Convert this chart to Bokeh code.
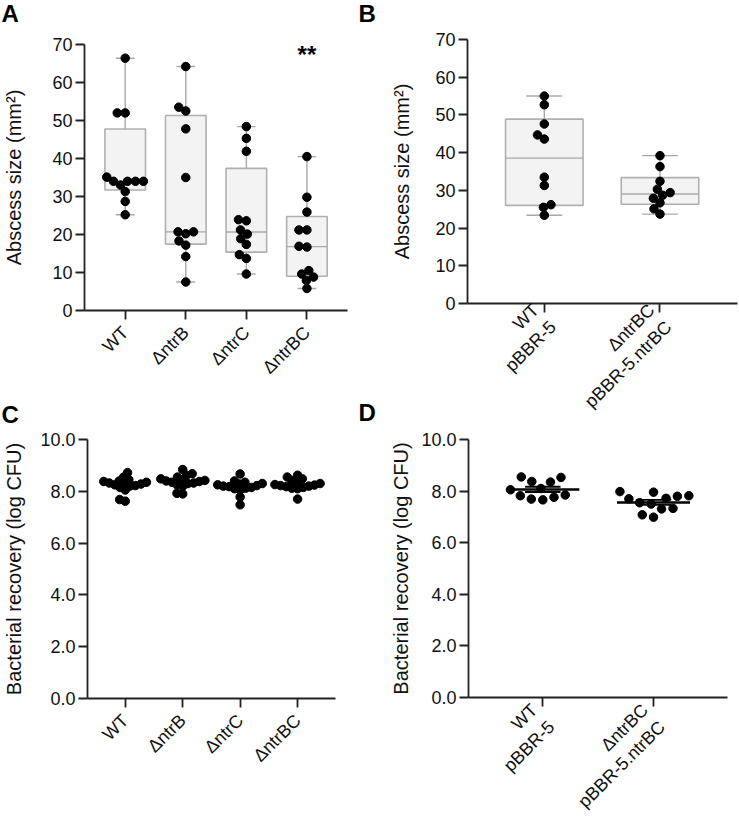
import numpy as np
from math import pi
from bokeh.plotting import figure
from bokeh.layouts import row, column
from bokeh.models import FixedTicker, Label, Range1d, NumeralTickFormatter
from bokeh.core.properties import value
from bokeh.embed import file_html
from bokeh.resources import INLINE

FONT = "Liberation Sans"

# ---------------- data ----------------
groups_a = ["WT", "ΔntrB", "ΔntrC", "ΔntrBC"]
a_wt = [66.4, 52.0, 52.0, 35.1, 34.0, 34.0, 34.0, 34.0, 33.0, 31.3, 28.7, 25.2]
a_ntrb = [64.2, 53.5, 52.5, 47.8, 35.0, 20.7, 20.7, 20.2, 18.3, 17.2, 14.2, 7.5]
a_ntrc = [48.4, 45.3, 41.9, 23.9, 23.6, 21.2, 20.1, 18.9, 17.4, 14.7, 13.7, 9.6]
a_ntrbc = [40.5, 29.8, 25.9, 21.2, 21.2, 16.9, 16.7, 10.5, 9.6, 8.8, 7.9, 5.8]
a_sig = "**"

groups_b = ["WT\npBBR-5", "ΔntrBC\npBBR-5.ntrBC"]
b_wt = [55.0, 52.7, 47.6, 44.7, 43.6, 33.5, 31.3, 26.2, 25.5, 23.4]
b_ntrbc = [39.2, 36.3, 32.4, 30.3, 29.4, 28.7, 27.9, 26.7, 25.1, 23.7]

c_wt = [8.72, 8.55, 8.45, 8.40, 8.38, 8.35, 8.32, 8.30, 8.28, 8.25, 8.22, 8.20, 8.15, 8.05, 7.68, 7.62]
c_ntrb = [8.84, 8.68, 8.62, 8.55, 8.48, 8.45, 8.42, 8.40, 8.38, 8.35, 8.32, 8.30, 8.25, 8.20, 7.92, 7.90]
c_ntrc = [8.67, 8.40, 8.35, 8.30, 8.28, 8.25, 8.22, 8.20, 8.18, 8.15, 8.12, 8.10, 8.05, 7.78, 7.48]
c_ntrbc = [8.62, 8.55, 8.48, 8.42, 8.35, 8.30, 8.26, 8.24, 8.22, 8.20, 8.18, 8.15, 8.12, 8.10, 7.70]

d_wt = [8.55, 8.53, 8.37, 8.35, 8.10, 8.05, 7.85, 7.82, 7.76, 7.69, 7.66]
d_ntrbc = [7.98, 7.96, 7.82, 7.80, 7.72, 7.70, 7.55, 7.50, 7.33, 7.31, 7.08, 6.99]

abscess_ticks = [0, 10, 20, 30, 40, 50, 60, 70]
cfu_ticks = [0, 2, 4, 6, 8, 10]
panel_letters = ["A", "B", "C", "D"]


# ---------------- helpers ----------------
def swarm(vals, px_y, diam):
    vals = np.asarray(vals, float)
    xs = np.zeros(len(vals))
    placed = []
    for i in np.argsort(vals, kind="stable"):
        y = vals[i] * px_y
        cands = [0.0]
        for xj, yj in placed:
            dy = y - yj
            if abs(dy) < diam:
                dx = np.sqrt(diam ** 2 - dy ** 2)
                cands += [xj + dx, xj - dx]
        cands.sort(key=lambda c: (round(abs(c), 6), c))
        for c in cands:
            if all((c - xj) ** 2 + (y - yj) ** 2 >= diam ** 2 - 1e-6 for xj, yj in placed):
                xs[i] = c
                break
        placed.append((xs[i], y))
    return xs


class Panel:
    def __init__(self, w, h, left, right, top, bottom, xr, yr, ticks_x, labels_x, ticks_y,
                 ylabel, lab_standoff, x_standoff, fmt=None):
        self.fw, self.fh = w - left - right, h - top - bottom
        p = figure(width=w, height=h, x_range=Range1d(*xr), y_range=Range1d(*yr),
                   output_backend="svg", toolbar_location=None, frame_align=False,
                   min_border_left=left, min_border_right=right,
                   min_border_top=top, min_border_bottom=bottom)
        p.grid.visible = False
        p.outline_line_color = None
        for ax in (p.xaxis[0], p.yaxis[0]):
            ax.axis_line_width = 1.8
            ax.axis_line_color = "#222222"
            ax.major_tick_line_width = 1.8
            ax.major_tick_line_color = "#222222"
            ax.major_tick_out = 9
            ax.major_tick_in = 0
            ax.minor_tick_line_color = None
            ax.major_label_text_font = FONT
            ax.major_label_text_font_size = "18px"
            ax.major_label_text_color = "#111111"
            ax.major_label_standoff = 3
        xa = p.xaxis[0]
        xa.ticker = FixedTicker(ticks=ticks_x)
        xa.major_label_overrides = {t: l for t, l in zip(ticks_x, labels_x)}
        xa.major_label_orientation = pi / 4
        xa.major_label_standoff = x_standoff
        ya = p.yaxis[0]
        ya.ticker = FixedTicker(ticks=ticks_y)
        if fmt:
            ya.formatter = NumeralTickFormatter(format=fmt)
        ya.axis_label = ylabel
        ya.axis_label_text_font = FONT
        ya.axis_label_text_font_style = "normal"
        ya.axis_label_text_font_size = "20px"
        ya.axis_label_text_color = "#111111"
        ya.axis_label_standoff = lab_standoff
        self.p = p
        self.px_x = self.fw / (xr[1] - xr[0])
        self.px_y = self.fh / (yr[1] - yr[0])


def letter_strip(w, h, letters, xs, ys):
    s = figure(width=w, height=h, x_range=Range1d(0, w), y_range=Range1d(h, 0),
               output_backend="svg", toolbar_location=None, min_border=0, frame_align=False)
    s.axis.visible = False
    s.grid.visible = False
    s.outline_line_color = None
    s.text(x=xs, y=ys, text=letters, text_font=value(FONT), text_font_style="bold",
           text_font_size="24px", text_color="black", text_baseline="top", text_align="left")
    return s


def boxplot(P, groups_vals, diam=8.0):
    p = P.p
    for k, v in enumerate(groups_vals, start=1):
        v = np.asarray(v, float)
        q1, med, q3 = np.percentile(v, [25, 50, 75], method="weibull")
        lo, hi = v.min(), v.max()
        bw = 0.67
        cw = 0.155
        p.segment(x0=[k, k], y0=[q3, q1], x1=[k, k], y1=[hi, lo], line_color="#a8a8a8", line_width=1.4)
        p.segment(x0=[k - cw, k - cw], y0=[hi, lo], x1=[k + cw, k + cw], y1=[hi, lo],
                  line_color="#a8a8a8", line_width=1.4)
        p.vbar(x=[k], width=bw, bottom=[q1], top=[q3], fill_color="#f3f3f3",
               line_color="#b0b0b0", line_width=1.6)
        p.segment(x0=[k - bw / 2], y0=[med], x1=[k + bw / 2], y1=[med], line_color="#a8a8a8", line_width=1.4)
        off = swarm(v, P.px_y, diam) / P.px_x
        p.scatter(x=k + off, y=v, size=8.5, fill_color="black", line_color="black")


# ---------------- letter strips ----------------
stripA = letter_strip(358, 28, [panel_letters[0]], [1], [-1])
stripC = letter_strip(358, 30, [panel_letters[2]], [1], [0])
stripM = letter_strip(22, 830, [panel_letters[1], panel_letters[3]], [0, 0], [-1, 398])

# ---------------- panel A (canvas x 0-358, y 28-400) ----------------
A = Panel(358, 372, 82, 11, 16, 90, (0.328, 4.67), (0, 70), [1, 2, 3, 4], groups_a,
          abscess_ticks, "Abscess size (mm²)", 24, 10)
boxplot(A, [a_wt, a_ntrb, a_ntrc, a_ntrbc])
A.p.add_layout(Label(x=4, y=70, text=a_sig, text_font=FONT, text_font_style="bold", text_color="black",
                     text_font_size="24px", text_align="center", text_baseline="top", y_offset=4))

# ---------------- panel C (canvas x 0-358, y 430-830) ----------------
C = Panel(358, 400, 77, 23, 9, 132, (0.343, 4.66), (0, 10), [1, 2, 3, 4], groups_a,
          cfu_ticks, "Bacterial recovery (log CFU)", 12, 10, fmt="0.0")
for k, v in enumerate([c_wt, c_ntrb, c_ntrc, c_ntrbc], start=1):
    off = swarm(v, C.px_y, 6.0) / C.px_x
    C.p.scatter(x=k + off, y=v, size=8.5, fill_color="black", line_color="black")
    med = float(np.median(v))
    C.p.segment(x0=[k - 0.33], y0=[med], x1=[k + 0.33], y1=[med], line_color="black", line_width=2.5)

# ---------------- panel B (canvas x 380-738, y 0-430) ----------------
B = Panel(358, 430, 87, 1, 39, 126, (0.336, 2.67), (0, 70), [1, 2], groups_b,
          abscess_ticks, "Abscess size (mm²)", 19, 3)
boxplot(B, [b_wt, b_ntrbc])

# ---------------- panel D (canvas x 380-738, y 430-830) ----------------
D = Panel(358, 400, 88, 11, 9, 133, (0.329, 2.668), (0, 10), [1, 2], groups_b,
          cfu_ticks, "Bacterial recovery (log CFU)", 6, 9, fmt="0.0")
for k, v in enumerate([d_wt, d_ntrbc], start=1):
    v = np.asarray(v, float)
    off = swarm(v, D.px_y, 11.5) / D.px_x
    D.p.scatter(x=k + off, y=v, size=8.5, fill_color="black", line_color="black")
    m = float(v.mean())
    sem = float(v.std(ddof=1) / np.sqrt(len(v)))
    D.p.segment(x0=[k - 0.33], y0=[m], x1=[k + 0.33], y1=[m], line_color="black", line_width=2.5)
    D.p.segment(x0=[k - 0.16, k - 0.16, k], y0=[m + sem, m - sem, m - sem],
                x1=[k + 0.16, k + 0.16, k], y1=[m + sem, m - sem, m + sem],
                line_color="black", line_width=1.8)

layout = row(column(stripA, A.p, stripC, C.p), stripM, column(B.p, D.p))
open("out.html", "w").write(file_html(layout, INLINE))
